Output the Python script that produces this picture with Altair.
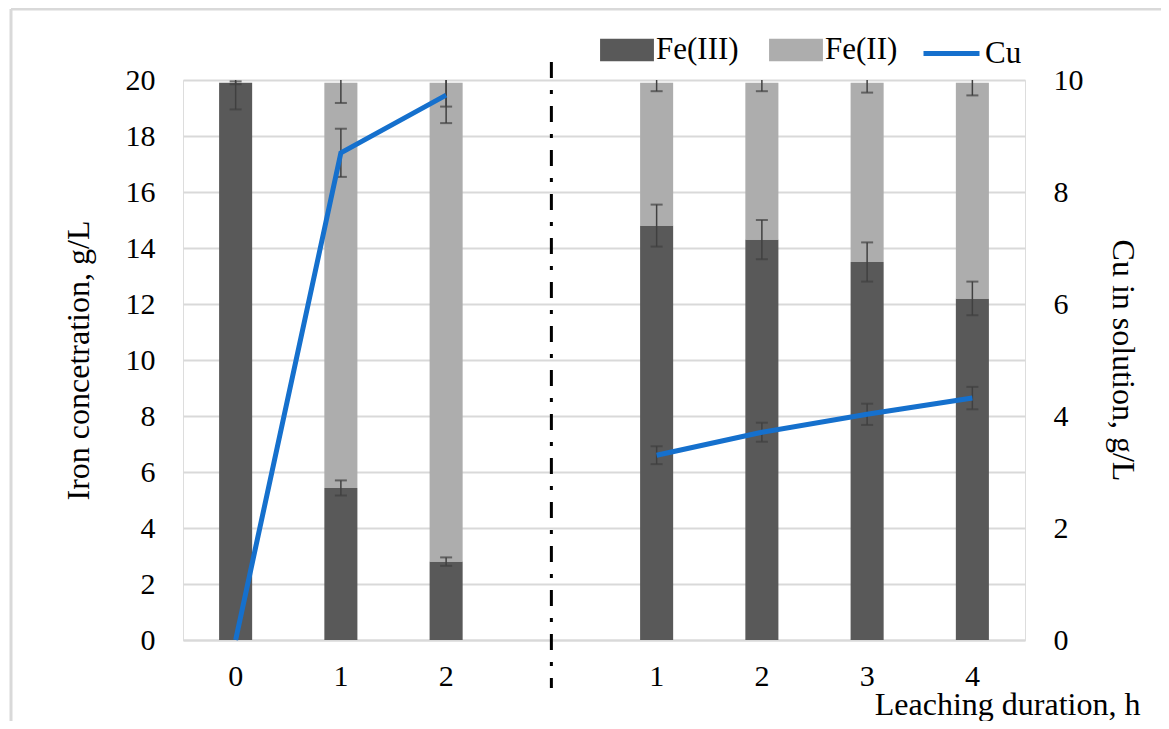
import altair as alt
import pandas as pd

# ---- data ----
slot_keys = ["A0", "A1", "A2", "B1", "B2", "B3", "B4"]
slot_domain = ["A0", "A1", "A2", "gap", "B1", "B2", "B3", "B4"]
phase = ["A", "A", "A", "B", "B", "B", "B"]
fe3 = [19.9, 5.43, 2.8, 14.8, 14.3, 13.5, 12.2]
fe_total = [19.9, 19.9, 19.9, 19.9, 19.9, 19.9, 19.9]
fe3_err = [0.95, 0.27, 0.15, 0.75, 0.7, 0.7, 0.6]
total_err = [0.05, 0.72, 0.85, 0.3, 0.3, 0.35, 0.45]
cu = [0.0, 8.7, 9.73, 3.3, 3.71, 4.03, 4.32]
cu_err = [0.0, 0.43, 0.5, 0.16, 0.17, 0.19, 0.2]
left_ticks = [0, 2, 4, 6, 8, 10, 12, 14, 16, 18, 20]
right_ticks = [0, 2, 4, 6, 8, 10]
series_names = ["Fe(III)", "Fe(II)"]

FONT = "Liberation Serif"
DARK = "#595959"
LIGHT = "#adadad"
BLUE = "#1570cd"
ERR = "#404040"
GRID = "#d9d9d9"
TICK_FS = 30
TITLE_FS = 32
LEG_FS = 31

W, H = 842, 560

bars = []
for k, a, t in zip(slot_keys, fe3, fe_total):
    bars.append({"key": k, "series": "Fe(III)", "value": a, "ord": 0})
    bars.append({"key": k, "series": "Fe(II)", "value": round(t - a, 3), "ord": 1})
bars_df = pd.DataFrame(bars)

err_rows = []
for k, a, ea, t, et in zip(slot_keys, fe3, fe3_err, fe_total, total_err):
    err_rows.append({"key": k, "lo": a - ea, "hi": a + ea})
    err_rows.append({"key": k, "lo": t - et, "hi": t + et})
err_df = pd.DataFrame(err_rows)

cu_df = pd.DataFrame({"key": slot_keys, "phase": phase, "cu": cu, "err": cu_err,
                      "series": ["Cu"] * len(cu)})
cu_df["lo"] = cu_df["cu"] - cu_df["err"]
cu_df["hi"] = cu_df["cu"] + cu_df["err"]

x_enc = alt.X(
    "key:N",
    scale=alt.Scale(type="band", domain=slot_domain, paddingInner=0.686, paddingOuter=0.343),
    axis=alt.Axis(
        title="Leaching duration, h",
        labelExpr="datum.value == 'gap' ? '' : substring(datum.value, 1)",
        labelFont=FONT, labelFontSize=TICK_FS, labelColor="black", labelPadding=21, labelAngle=0,
        ticks=False, domainColor=GRID, domainWidth=2,
        titleFont=FONT, titleFontSize=TITLE_FS, titleFontWeight="normal", titleColor="black",
        titleX=957, titleY=74, titleAlign="right", titleBaseline="alphabetic",
    ),
)

yL_scale = alt.Scale(domain=[0, 20], nice=False)
yR_scale = alt.Scale(domain=[0, 10], nice=False)

left_axis = alt.Axis(
    values=left_ticks, title="Iron concetration, g/L", grid=True, gridColor=GRID, gridWidth=2,
    domain=False, ticks=False, labelFont=FONT, labelFontSize=TICK_FS, labelColor="black",
    labelPadding=28, titleFont=FONT, titleFontSize=TITLE_FS, titleFontWeight="normal",
    titleColor="black", titlePadding=30,
)
right_axis = alt.Axis(
    values=right_ticks, title="Cu in solution, g/L", grid=False, orient="right",
    domain=False, ticks=False, labelFont=FONT, labelFontSize=TICK_FS, labelColor="black",
    labelPadding=28, titleFont=FONT, titleFontSize=TITLE_FS, titleFontWeight="normal",
    titleColor="black", titlePadding=22,
)

bar_layer = alt.Chart(bars_df).mark_bar().encode(
    x=x_enc,
    y=alt.Y("value:Q", stack="zero", scale=yL_scale, axis=left_axis),
    fill=alt.Fill("series:N", scale=alt.Scale(domain=series_names, range=[DARK, LIGHT]),
                  legend=alt.Legend(orient="none", legendX=417, legendY=-57, direction="horizontal",
                                    title=None, symbolType="M-1,-0.42H1V0.42H-1Z", symbolSize=2900,
                                    symbolStrokeWidth=0, labelFont=FONT, labelFontSize=LEG_FS,
                                    labelColor="black", columnPadding=30, labelOffset=2)),
    order=alt.Order("ord:Q"),
)

fe_rule = alt.Chart(err_df).mark_rule(color=ERR, strokeWidth=1.5, clip=True).encode(
    x=alt.X("key:N"), y=alt.Y("lo:Q"), y2="hi:Q")
fe_lo = alt.Chart(err_df).mark_tick(color=ERR, size=12, thickness=2, orient="horizontal", clip=True).encode(
    x=alt.X("key:N"), y=alt.Y("lo:Q"))
fe_hi = alt.Chart(err_df).mark_tick(color=ERR, size=12, thickness=2, orient="horizontal", clip=True).encode(
    x=alt.X("key:N"), y=alt.Y("hi:Q"))

frame_src = alt.Chart(pd.DataFrame({"f": [0]}))
frame_left = frame_src.mark_rule(color=GRID, strokeWidth=3).encode(
    x=alt.value(-172), y=alt.value(-71), y2=alt.value(H + 300))
frame_top = frame_src.mark_rule(color=GRID, strokeWidth=3).encode(
    x=alt.value(-172), x2=alt.value(W + 300), y=alt.value(-71))

divider = alt.Chart(pd.DataFrame({"key": ["gap"]})).mark_rule(
    color="black", strokeWidth=3, strokeDash=[16, 12, 4, 12]).encode(
    x=alt.X("key:N"), y=alt.value(-18), y2=alt.value(H + 48))

left = alt.layer(frame_left, frame_top, bar_layer, fe_rule, fe_lo, fe_hi, divider)

cu_f = alt.Chart(cu_df).transform_filter("datum.err > 0")
cu_rule = cu_f.mark_rule(color=ERR, strokeWidth=1.5, clip=True).encode(
    x=alt.X("key:N"), y=alt.Y("lo:Q", scale=yR_scale, axis=right_axis), y2="hi:Q")
cu_lo = cu_f.mark_tick(color=ERR, size=12, thickness=2, orient="horizontal", clip=True).encode(
    x=alt.X("key:N"), y=alt.Y("lo:Q"))
cu_hi = cu_f.mark_tick(color=ERR, size=12, thickness=2, orient="horizontal", clip=True).encode(
    x=alt.X("key:N"), y=alt.Y("hi:Q"))
cu_line = alt.Chart(cu_df).mark_line(strokeWidth=5).encode(
    x=alt.X("key:N"),
    y=alt.Y("cu:Q"),
    detail="phase:N",
    stroke=alt.Stroke("series:N", scale=alt.Scale(domain=["Cu"], range=[BLUE]),
                      legend=alt.Legend(orient="none", legendX=738, legendY=-57, title=None,
                                        symbolType="stroke", symbolSize=3136, symbolStrokeWidth=5,
                                        labelFont=FONT, labelFontSize=LEG_FS, labelColor="black",
                                        labelOffset=3)),
)
right = alt.layer(cu_rule, cu_lo, cu_hi, cu_line)

chart = alt.layer(left, right).resolve_scale(y="independent", fill="independent", stroke="independent").properties(
    width=W, height=H,
    autosize=alt.AutoSizeParams(type="none"),
    padding={"left": 175, "top": 72, "right": 136, "bottom": 81},
).configure_view(stroke=None).configure(background="white")

chart.save("out.html", embed_options={"renderer": "svg", "actions": False})
